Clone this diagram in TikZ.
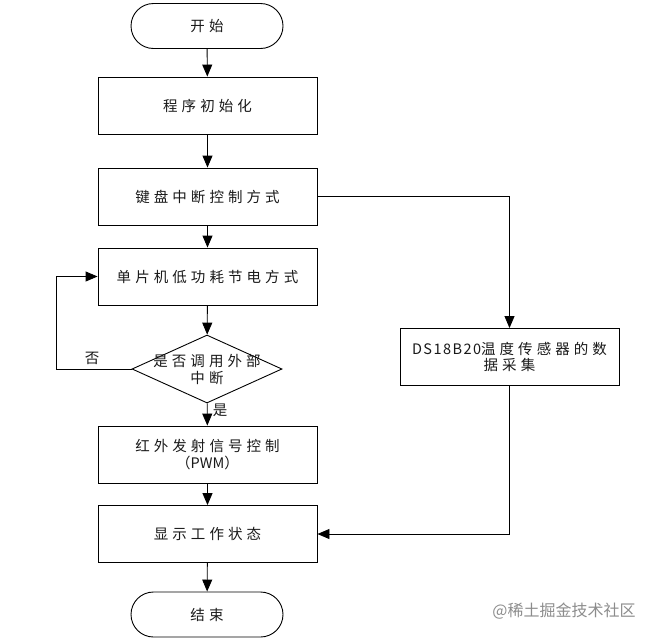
\documentclass[tikz,border=0pt]{standalone}
\usepackage{fontspec}
\setmainfont{Noto Sans CJK SC}[LetterSpace=28]
\newfontfamily\wmfont{Noto Sans CJK SC}
\usetikzlibrary{arrows.meta,shapes.geometric}
\begin{document}
\begin{tikzpicture}[x=1pt,y=-1pt,
  txt/.style={font=\fontsize{14.5}{16.5}\selectfont, align=center, text=black!90},
  box/.style={draw, line width=0.9pt, minimum width=219pt, minimum height=57pt, inner sep=0pt, txt},
  term/.style={draw, line width=0.9pt, rounded corners=22.5pt, minimum width=152pt, minimum height=45pt, inner sep=0pt, txt},
  decis/.style={draw, diamond, line width=0.9pt, minimum width=150pt, minimum height=68pt, inner sep=0pt},
  lbl/.style={inner sep=0pt, txt},
  arr/.style={-{Triangle[length=12pt,width=10pt]}, line width=0.9pt},
  ln/.style={line width=0.9pt}
]
\useasboundingbox (0,0) rectangle (664,640);
\node[term] (start) at (207,26) {开始};
\node[box] (b1) at (207.5,105.5) {程序初始化};
\node[box] (b2) at (207.5,196.5) {键盘中断控制方式};
\node[box] (b3) at (207.5,276.5) {单片机低功耗节电方式};
\node[decis] (dia) at (207,369) {};
\node[lbl] (diatext) at (207,369.5) {是否调用外部\\中断};
\node[box] (b4) at (207.5,454.5) {红外发射信号控制\\{\addfontfeature{LetterSpace=0}（PWM）}};
\node[box] (b5) at (207.5,534) {显示工作状态};
\node[term] (end) at (207,614.5) {结束};
\node[box] (ds) at (509.5,357) {{\addfontfeature{LetterSpace=10}DS18B20}温度传感器的数\\据采集};
\coordinate (loopc) at (56,369);
\node[lbl] (no) at (92,358) {否};
\node[lbl] (yes) at (220,410) {是};
\node[inner sep=0pt, font=\wmfont\fontsize{16}{16}\selectfont, text=black!45] (wm) at (564,611) {@稀土掘金技术社区};

\draw[arr] (start) -- (b1);
\draw[arr] (b1) -- (b2);
\draw[arr] (b2) -- (b3);
\draw[arr] (b3) -- (dia);
\draw[arr] (dia) -- (b4);
\draw[arr] (b4) -- (b5);
\draw[arr] (b5) -- (end);
\draw[arr] (dia.west) -- (loopc) |- (b3.west);
\draw[arr] (b2.east) -| (ds.north);
\draw[arr] (ds.south) |- (b5.east);
\end{tikzpicture}
\end{document}
